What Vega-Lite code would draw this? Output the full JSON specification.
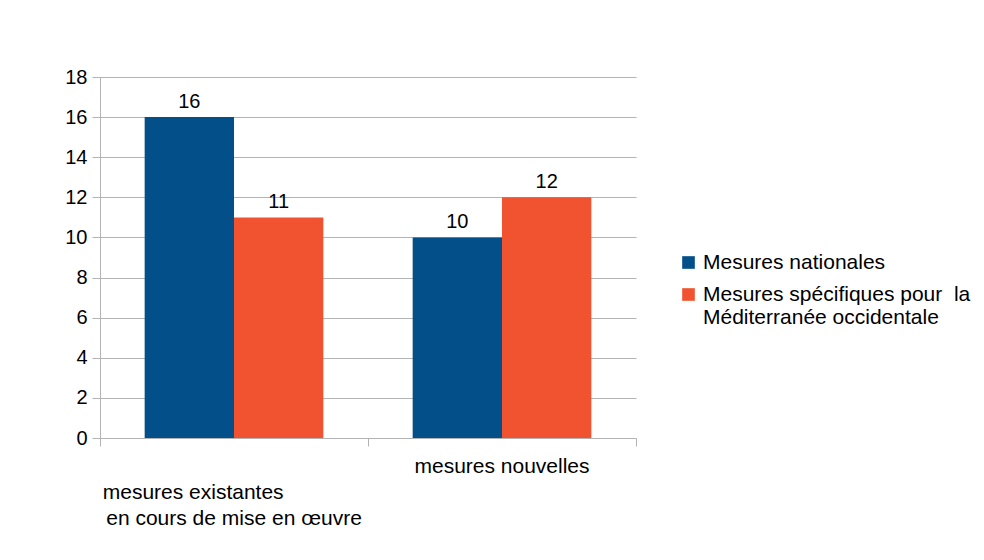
{
  "$schema": "https://vega.github.io/schema/vega-lite/v6.json",
  "width": 536,
  "height": 361,
  "autosize": {"type": "none"},
  "padding": {"left": 100, "top": 77, "right": 348, "bottom": 122},
  "background": "white",
  "config": {
    "font": "Liberation Sans",
    "view": {"stroke": null}
  },
  "data": {
    "values": [
      {"categorie": "mesures existantes\n\u00a0en cours de mise en œuvre", "serie": "Mesures nationales", "valeur": 16},
      {"categorie": "mesures existantes\n\u00a0en cours de mise en œuvre", "serie": "Mesures spécifiques pour \u00a0la\nMéditerranée occidentale", "valeur": 11},
      {"categorie": "mesures nouvelles", "serie": "Mesures nationales", "valeur": 10},
      {"categorie": "mesures nouvelles", "serie": "Mesures spécifiques pour \u00a0la\nMéditerranée occidentale", "valeur": 12}
    ]
  },
  "layer": [
    {
      "mark": {"type": "bar"},
      "encoding": {
        "x": {
          "field": "categorie",
          "type": "nominal",
          "sort": null,
          "scale": {"paddingInner": 0, "paddingOuter": 0},
          "axis": {
            "title": null,
            "labelAngle": 0,
            "labelExpr": "indexof(datum.label, 'existantes') >= 0 ? ['', 'mesures existantes\u00a0\u00a0\u00a0\u00a0\u00a0\u00a0\u00a0\u00a0\u00a0\u00a0\u00a0\u00a0\u00a0\u00a0\u200b', '\u00a0en cours de mise en œuvre'] : datum.label",
            "labelFontSize": 21,
            "labelColor": "black",
            "labelLimit": 400,
            "labelLineHeight": 26,
            "labelBaseline": "top",
            "labelPadding": 9,
            "bandPosition": 1,
            "tickExtra": true,
            "tickSize": 8,
            "tickColor": "#b3b3b3",
            "domainColor": "#b3b3b3"
          }
        },
        "xOffset": {"field": "serie", "type": "nominal", "sort": null, "scale": {"paddingInner": 0, "paddingOuter": 0.5}},
        "y": {
          "field": "valeur",
          "type": "quantitative",
          "scale": {"domain": [0, 18], "nice": false},
          "axis": {
            "title": null,
            "values": [0, 2, 4, 6, 8, 10, 12, 14, 16, 18],
            "grid": true,
            "gridColor": "#b3b3b3",
            "domainColor": "#b3b3b3",
            "tickColor": "#b3b3b3",
            "tickSize": 8,
            "labelFontSize": 20,
            "labelColor": "black",
            "labelPadding": 5
          }
        },
        "color": {
          "field": "serie",
          "type": "nominal",
          "sort": null,
          "scale": {"range": ["#034f89", "#f15331"]},
          "legend": {
            "title": null,
            "orient": "none",
            "legendX": 578,
            "legendY": 175,
            "symbolType": "square",
            "symbolSize": 160,
            "symbolStrokeWidth": 0,
            "labelFontSize": 21,
            "labelColor": "black",
            "labelLimit": 400,
            "labelOffset": 4,
            "rowPadding": 10,
            "labelExpr": "split(datum.label, '\\n')"
          }
        }
      }
    },
    {
      "mark": {"type": "text", "dy": -9, "baseline": "alphabetic", "fontSize": 20, "color": "black"},
      "encoding": {
        "x": {"field": "categorie", "type": "nominal", "sort": null},
        "xOffset": {"field": "serie", "type": "nominal", "sort": null},
        "y": {"field": "valeur", "type": "quantitative"},
        "text": {"field": "valeur", "type": "quantitative"}
      }
    }
  ]
}
